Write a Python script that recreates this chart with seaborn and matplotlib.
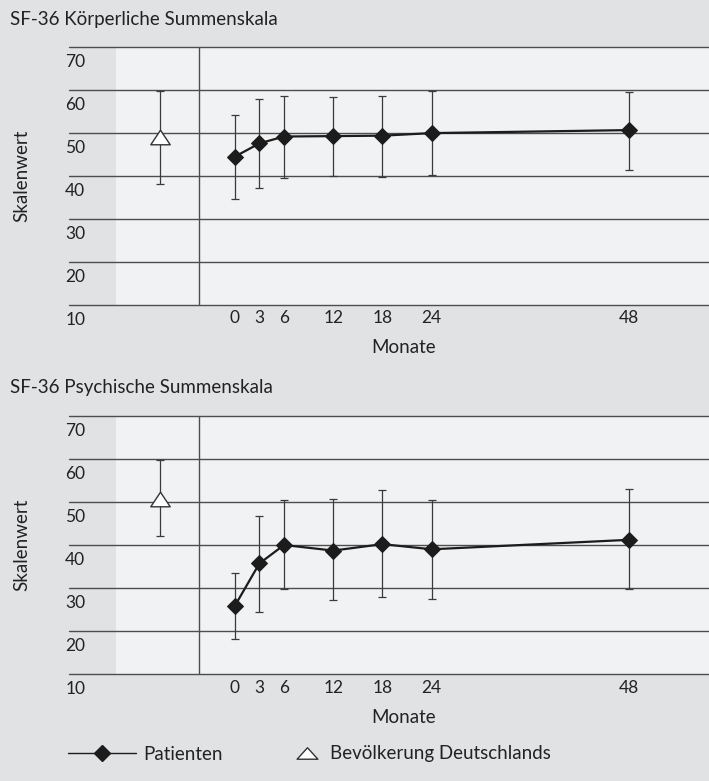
import numpy as np
import pandas as pd
import matplotlib
matplotlib.use("Agg")
import matplotlib.pyplot as plt
import matplotlib.transforms as mtrans
from matplotlib.lines import Line2D
from matplotlib.path import Path
import seaborn as sns

# Werte (Mittelwert, untere/obere Fehlerbalken-Grenze)
monate = [0, 3, 6, 12, 18, 24, 48]
y_ticks = [10, 20, 30, 40, 50, 60, 70]

koerper_mw = [44.5, 47.6, 49.2, 49.3, 49.4, 50.0, 50.7]
koerper_lo = [34.6, 37.2, 39.6, 40.0, 39.8, 40.2, 41.5]
koerper_hi = [54.3, 58.0, 58.7, 58.4, 58.6, 59.8, 59.6]
koerper_ref = [49.1, 38.1, 59.8]  # Bevölkerung: mw, lo, hi

psyche_mw = [25.8, 35.7, 40.0, 38.7, 40.2, 39.0, 41.2]
psyche_lo = [18.1, 24.4, 29.7, 27.3, 28.0, 27.4, 29.8]
psyche_hi = [33.6, 46.7, 50.5, 50.6, 52.8, 50.5, 53.0]
psyche_ref = [50.8, 42.1, 59.8]

titel = ["SF-36 Körperliche Summenskala", "SF-36 Psychische Summenskala"]

sns.set_style("white")
plt.rcParams["font.family"] = ["Lato", "DejaVu Sans"]

BG = "#e1e2e4"
PLOT_BG = "#f1f2f4"
GRID = "#4d4d4d"
DARK = "#1c1c1c"
TXT = "#222222"

# Layout auf der Monats-Achse
XMIN, XMAX = -20.2, 57.8
BAND_END = -14.5
DIVIDER = -4.3
REF_X = -9.1

# flaches Dreieck als Marker (geschlossener Pfad)
tri_plot = Path([(-1, -0.75), (1, -0.75), (0, 0.75), (-1, -0.75)], closed=True)
tri_leg = Path([(-1, -0.55), (1, -0.55), (0, 0.55), (-1, -0.55)], closed=True)

fig = plt.figure(figsize=(7.09, 7.81), dpi=100, facecolor=BG)
ax1 = fig.add_axes([69 / 709, 1 - 304.7 / 781, 640 / 709, 257.4 / 781])
ax2 = fig.add_axes([69 / 709, 1 - 674 / 781, 640 / 709, 258 / 781])


def panel(ax, title, title_y, mw, lo, hi, ref):
    ax.set_facecolor(PLOT_BG)
    ax.set_xlim(XMIN, XMAX)
    ax.set_ylim(10, 70)
    ax.axvspan(XMIN, BAND_END, color=BG, lw=0, zorder=0)
    for v in y_ticks:
        ax.axhline(v, color=GRID, lw=1.0, zorder=1, clip_on=False)
    ax.axvline(DIVIDER, color=GRID, lw=1.0, zorder=1)

    mw = np.array(mw)
    yerr = [mw - np.array(lo), np.array(hi) - mw]
    ax.errorbar(monate, mw, yerr=yerr, fmt="none", ecolor="#3a3a3a",
                elinewidth=0.9, capsize=3, capthick=0.9, zorder=2)
    df = pd.DataFrame({"Monate": monate, "Wert": mw})
    sns.lineplot(data=df, x="Monate", y="Wert", ax=ax, color=DARK, lw=1.6,
                 marker="D", markersize=8, markeredgecolor=DARK,
                 markerfacecolor=DARK, zorder=3)

    ax.errorbar([REF_X], [ref[0]], yerr=[[ref[0] - ref[1]], [ref[2] - ref[0]]],
                fmt="none", ecolor="#3a3a3a", elinewidth=0.9, capsize=3,
                capthick=0.9, zorder=2)
    ax.plot([REF_X], [ref[0]], ls="none", marker=tri_plot, ms=14,
            mfc="white", mec="#333333", mew=1.0, zorder=3)

    for s in ax.spines.values():
        s.set_visible(False)
    ax.set_xticks(monate)
    ax.set_xticklabels([str(m) for m in monate])
    ax.tick_params(axis="x", length=0, pad=4, labelsize=12.5, labelcolor=TXT)
    ax.set_yticks([])
    off = mtrans.ScaledTranslation(0, -0.15, fig.dpi_scale_trans)
    for v in y_ticks:
        ax.text(-0.006, v, str(v), transform=ax.get_yaxis_transform() + off,
                ha="left", va="center", fontsize=12.5, color=TXT)

    ax.set_xlabel("Monate", fontsize=13.5, color=TXT, va="center")
    ax.xaxis.set_label_coords(0.523, -0.168)
    ax.set_ylabel("Skalenwert", fontsize=13.5, color=TXT)
    ax.yaxis.set_label_coords(-0.061, 0.5)

    fig.text(10 / 709, 1 - title_y / 781, title, ha="left", va="center",
             fontsize=13.5, color=TXT)


panel(ax1, titel[0], 19, koerper_mw, koerper_lo, koerper_hi, koerper_ref)
panel(ax2, titel[1], 387, psyche_mw, psyche_lo, psyche_hi, psyche_ref)

h1 = Line2D([], [], color=DARK, lw=1.0, marker="D", ms=8, mfc=DARK, mec=DARK)
h2 = Line2D([], [], ls="none", marker=tri_leg, ms=15, mfc="white",
            mec="#333333", mew=1.0)
leg_kw = dict(loc="center left", frameon=False, borderpad=0, borderaxespad=0,
              prop={"size": 13.5}, labelcolor=TXT)
fig.legend([h1], ["Patienten"], bbox_to_anchor=(68 / 709, 1 - 754 / 781),
           handlelength=3.63, handletextpad=0.37, **leg_kw)
fig.legend([h2], ["Bevölkerung Deutschlands"],
           bbox_to_anchor=(297 / 709, 1 - 754 / 781),
           handlelength=1.11, handletextpad=0.64, **leg_kw)

fig.savefig("out.png", dpi=100, facecolor=BG)
